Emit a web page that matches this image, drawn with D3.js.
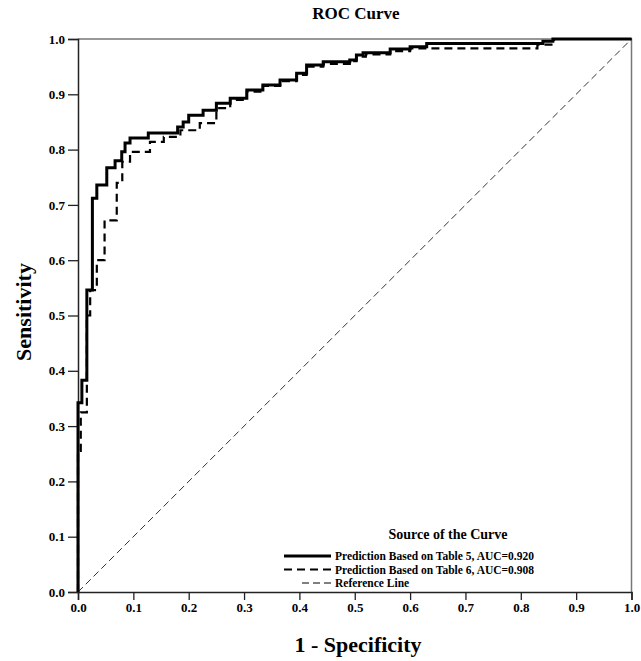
<!DOCTYPE html>
<html>
<head>
<meta charset="utf-8">
<script src="https://cdn.jsdelivr.net/npm/d3@7"></script>
<style>
  body { margin: 0; background: #fff; }
  text { font-family: "Liberation Serif", "Times New Roman", serif; font-weight: bold; }
</style>
</head>
<body>
<div id="chart"></div>
<script>
// ROC points [1 - specificity, sensitivity]
var table5 = [
  [0, 0], [0, 0.342], [0.007, 0.383], [0.016, 0.546], [0.026, 0.712], [0.034, 0.736],
  [0.052, 0.767], [0.067, 0.78], [0.079, 0.796], [0.085, 0.812], [0.094, 0.821],
  [0.127, 0.83], [0.18, 0.841], [0.19, 0.85], [0.2, 0.862], [0.226, 0.871],
  [0.25, 0.884], [0.275, 0.893], [0.305, 0.908], [0.334, 0.917], [0.365, 0.926],
  [0.395, 0.938], [0.413, 0.953], [0.443, 0.959], [0.491, 0.962], [0.503, 0.971],
  [0.515, 0.975], [0.564, 0.982], [0.6, 0.986], [0.63, 0.992], [0.84, 0.996],
  [0.858, 1], [1, 1]
];
var table6 = [
  [0, 0], [0, 0.255], [0.005, 0.325], [0.016, 0.5], [0.022, 0.546], [0.034, 0.6],
  [0.048, 0.672], [0.07, 0.74], [0.08, 0.778], [0.094, 0.796], [0.13, 0.814],
  [0.155, 0.823], [0.185, 0.835], [0.22, 0.848], [0.25, 0.875], [0.275, 0.89],
  [0.305, 0.905], [0.334, 0.915], [0.365, 0.924], [0.395, 0.935], [0.413, 0.95],
  [0.443, 0.955], [0.491, 0.96], [0.503, 0.968], [0.52, 0.972], [0.564, 0.978],
  [0.6, 0.983], [0.83, 0.99], [0.86, 1], [1, 1]
];
var refLine = [[0, 0], [1, 1]];
var tickValues = [0, 0.1, 0.2, 0.3, 0.4, 0.5, 0.6, 0.7, 0.8, 0.9, 1.0];
var legendLabels = [
  "Prediction Based on Table 5, AUC=0.920",
  "Prediction Based on Table 6, AUC=0.908",
  "Reference Line"
];

var svgWidth = 641, svgHeight = 661;
var margin = { top: 39, right: 9.5, bottom: 69, left: 78 };
var width = svgWidth - margin.left - margin.right;
var height = svgHeight - margin.top - margin.bottom;

var svg = d3.select("#chart").append("svg")
  .attr("width", svgWidth)
  .attr("height", svgHeight);

var chartGroup = svg.append("g")
  .attr("transform", `translate(${margin.left}, ${margin.top})`);

var xScale = d3.scaleLinear().domain([0, 1]).range([0, width]);
var yScale = d3.scaleLinear().domain([0, 1]).range([height, 0]);

// frame (top and right)
chartGroup.append("path")
  .attr("d", `M0,0H${width}V${height}`)
  .attr("fill", "none")
  .attr("stroke", "#777")
  .attr("stroke-width", 1.5);

var xAxis = d3.axisBottom(xScale).tickValues(tickValues).tickFormat(d3.format(".1f"))
  .tickSizeOuter(0).tickSize(8).tickPadding(3);
var yAxis = d3.axisLeft(yScale).tickValues(tickValues).tickFormat(d3.format(".1f"))
  .tickSizeOuter(0).tickSize(10).tickPadding(3);

var gx = chartGroup.append("g")
  .attr("transform", `translate(0, ${height})`)
  .call(xAxis);
var gy = chartGroup.append("g").call(yAxis);

[gx, gy].forEach(function(g) {
  g.selectAll("text").attr("font-size", 13).attr("fill", "#000");
  g.selectAll("line").attr("stroke", "#222").attr("stroke-width", 1.3);
  g.select(".domain").attr("stroke", "#222").attr("stroke-width", 1.5);
});

var line = d3.line()
  .x(d => xScale(d[0]))
  .y(d => yScale(d[1]));
var stepLine = d3.line()
  .x(d => xScale(d[0]))
  .y(d => yScale(d[1]))
  .curve(d3.curveStepAfter);

chartGroup.append("path")
  .datum(refLine)
  .attr("d", line)
  .attr("fill", "none")
  .attr("stroke", "#333")
  .attr("stroke-width", 1)
  .attr("stroke-dasharray", "7,4");

chartGroup.append("path")
  .datum(table6)
  .attr("d", stepLine)
  .attr("fill", "none")
  .attr("stroke", "#000")
  .attr("stroke-width", 2.2)
  .attr("stroke-dasharray", "8,5");

chartGroup.append("path")
  .datum(table5)
  .attr("d", stepLine)
  .attr("fill", "none")
  .attr("stroke", "#000")
  .attr("stroke-width", 3);

// titles
svg.append("text")
  .attr("x", 356).attr("y", 19)
  .attr("text-anchor", "middle")
  .attr("font-size", 17)
  .text("ROC Curve");

svg.append("text")
  .attr("x", 358).attr("y", 652)
  .attr("text-anchor", "middle")
  .attr("font-size", 22)
  .text("1 - Specificity");

svg.append("text")
  .attr("transform", "translate(31, 312) rotate(-90)")
  .attr("text-anchor", "middle")
  .attr("font-size", 22)
  .text("Sensitivity");

// legend
var legend = svg.append("g");
legend.append("text")
  .attr("x", 448).attr("y", 539)
  .attr("text-anchor", "middle")
  .attr("font-size", 14)
  .text("Source of the Curve");

var styles = [
  { w: 3, dash: null, x0: 284 },
  { w: 2.2, dash: "8,5", x0: 284 },
  { w: 1, dash: "7,4", x0: 302 }
];
legendLabels.forEach(function(label, i) {
  var y = 556 + i * 13.5;
  legend.append("line")
    .attr("x1", styles[i].x0).attr("x2", 331)
    .attr("y1", y).attr("y2", y)
    .attr("stroke", "#000")
    .attr("stroke-width", styles[i].w)
    .attr("stroke-dasharray", styles[i].dash);
  legend.append("text")
    .attr("x", 335).attr("y", y + 4)
    .attr("font-size", 11.5)
    .text(label);
});
</script>
</body>
</html>
